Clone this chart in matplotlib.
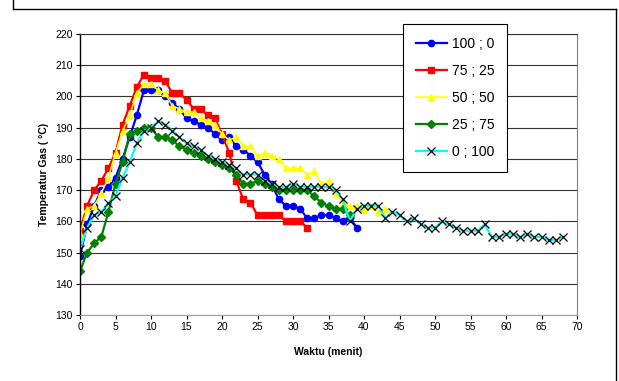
import matplotlib
matplotlib.use("Agg")
import matplotlib.pyplot as plt
from matplotlib.lines import Line2D

plt.rcParams["font.family"] = ["Liberation Sans", "DejaVu Sans"]

# temperature readings per minute, one list per mixture ratio
t_100_0 = list(range(0, 40))
temp_100_0 = [149, 159, 165, 170, 171, 174, 180, 187, 194, 202,
              202, 202, 200, 198, 196, 193, 192, 191, 190, 188,
              186, 187, 184, 183, 181, 179, 175, 172, 167, 165,
              165, 164, 161, 161, 162, 162, 161, 160, 161, 158]

t_75_25 = list(range(0, 33))
temp_75_25 = [157, 165, 170, 173, 177, 182, 191, 197, 203, 207,
              206, 206, 205, 201, 201, 199, 196, 196, 194, 193,
              188, 182, 173, 167, 166, 162, 162, 162, 162, 160,
              160, 160, 158]

t_50_50 = list(range(0, 44))
temp_50_50 = [156, 164, 165, 169, 174, 182, 189, 194, 201, 204,
              204, 202, 201, 197, 196, 195, 195, 193, 192, 191,
              188, 186, 187, 184, 184, 181, 182, 181, 180, 177,
              177, 177, 175, 176, 172, 173, 169, 166, 165, 165,
              164, 165, 163, 164]

t_25_75 = list(range(0, 39))
temp_25_75 = [144, 150, 153, 155, 163, 172, 179, 188, 189, 190,
              190, 187, 187, 186, 184, 183, 182, 181, 180, 179,
              178, 177, 175, 172, 172, 173, 172, 171, 170, 170,
              170, 170, 170, 168, 166, 165, 164, 164, 162]

t_0_100 = list(range(0, 69))
temp_0_100 = [151, 158, 162, 163, 166, 168, 174, 179, 185, 189,
              190, 192, 191, 189, 187, 185, 184, 183, 181, 180,
              179, 178, 177, 175, 175, 175, 173, 172, 171, 171,
              172, 171, 171, 171, 171, 171, 170, 167, 160, 164,
              165, 165, 165, 161, 163, 162, 160, 161, 159, 158,
              158, 160, 159, 158, 157, 157, 157, 159, 155, 155,
              156, 156, 155, 156, 155, 155, 154, 154, 155]

labels = ["100 ; 0", "75 ; 25", "50 ; 50", "25 ; 75", "0 ; 100"]

fig = plt.figure(figsize=(6.19, 3.81), dpi=100)
ax = fig.add_axes([80 / 619, 1 - 315 / 381, 497 / 619, 281 / 381])

ax.plot(t_100_0, temp_100_0, color="#0000ff", lw=1.6, marker="o", ms=4.5,
        label=labels[0])
ax.plot(t_75_25, temp_75_25, color="#ff0000", lw=1.6, marker="s", ms=4.5,
        label=labels[1])
ax.plot(t_50_50, temp_50_50, color="#ffff00", lw=1.1, marker="^", ms=4.5,
        label=labels[2])
ax.plot(t_25_75, temp_25_75, color="#008000", lw=1.6, marker="D", ms=4,
        label=labels[3])
ax.plot(t_0_100, temp_0_100, color="#00ffff", lw=1.6, marker="x", ms=6,
        mec="black", mew=0.9, label=labels[4])

ax.set_xlim(0, 70)
ax.set_ylim(130, 220)
ax.set_xticks(range(0, 71, 5))
ax.set_yticks(range(130, 221, 10))
ax.tick_params(labelsize=7.5, length=3, width=0.8, direction="out", pad=2)
ax.grid(axis="y", color="#333333", lw=0.8)
ax.set_axisbelow(True)

ax.spines["left"].set_color("black")
ax.spines["left"].set_linewidth(1.0)
ax.spines["bottom"].set_color("#a0a0a0")
ax.spines["right"].set_color("#808080")
ax.spines["top"].set_color("#333333")
ax.spines["top"].set_linewidth(0.8)

ax.set_xlabel("Waktu (menit)", fontsize=7.5, fontweight="bold", labelpad=11)
ax.set_ylabel("Temperatur Gas ( °C)", fontsize=7.5, fontweight="bold",
              labelpad=5)

leg = ax.legend(loc="upper left", bbox_to_anchor=(403 / 619, 1 - 24 / 381),
                bbox_transform=fig.transFigure, fontsize=10, frameon=True,
                fancybox=False, edgecolor="black", framealpha=1,
                handlelength=2.3, labelspacing=0.95, borderpad=0.9,
                handletextpad=0.3, borderaxespad=0)
leg.get_frame().set_linewidth(0.8)
leg.set_zorder(10)

# outer chart border (bottom edge is cut off in the original)
for xs, ys in [((13, 13), (-5, 9)), ((13, 616), (9, 9)), ((616, 616), (9, 386))]:
    fig.add_artist(Line2D([x / 619 for x in xs], [1 - y / 381 for y in ys],
                          color="black", lw=1.0))

fig.savefig("out.png", dpi=100)
